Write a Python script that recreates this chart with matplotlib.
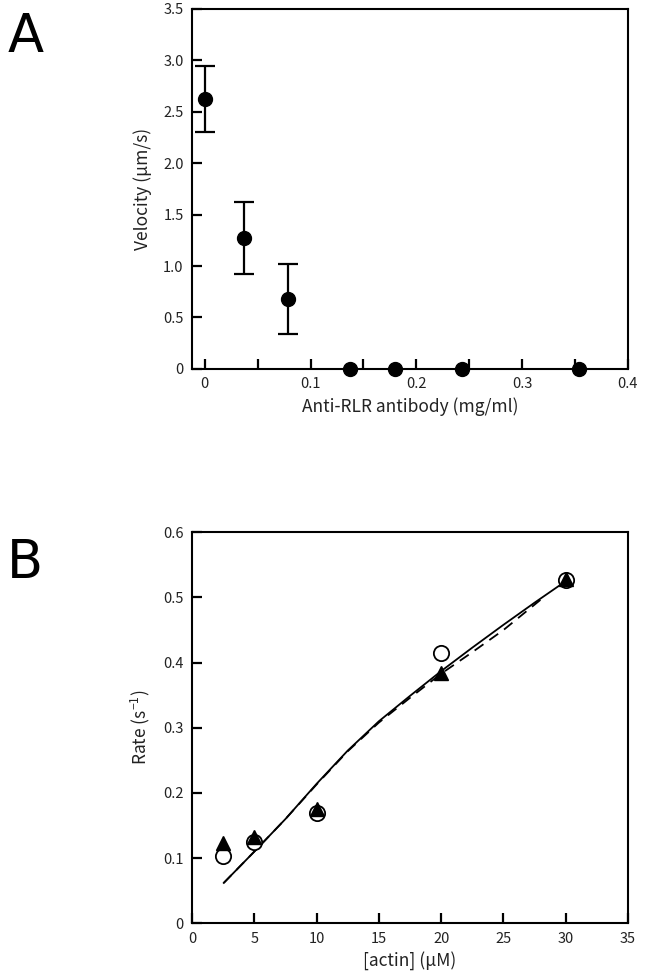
import matplotlib
matplotlib.use("Agg")
import matplotlib.pyplot as plt
import numpy as np

plt.rcParams['font.family'] = ['Noto Sans CJK JP', 'DejaVu Sans']
plt.rcParams['mathtext.fontset'] = 'custom'
plt.rcParams['mathtext.rm'] = 'Noto Sans CJK JP'

# panel A: velocity vs antibody
antibody = [0.0, 0.0375, 0.079, 0.137, 0.18, 0.243, 0.354]
velocity = [2.62, 1.27, 0.68, 0.0, 0.0, 0.0, 0.0]
vel_err = [0.32, 0.35, 0.34, 0.0, 0.0, 0.0, 0.0]

# panel B: rate vs actin
actin = [2.5, 5, 10, 20, 30]
rate_open = [0.104, 0.125, 0.170, 0.415, 0.527]
rate_tri = [0.123, 0.133, 0.176, 0.384, 0.528]

fit_x = [2.55, 5, 7.5, 10, 12.5, 15, 17.5, 20, 22.5, 25, 27.5, 30]
fit_solid = [0.062, 0.110, 0.160, 0.214, 0.265, 0.310, 0.349, 0.387, 0.423, 0.458, 0.492, 0.525]
fit_dash_x = [2.55, 5, 7.5, 10, 12.5, 15, 17.5, 20, 22.5, 25, 28.4]
fit_dash = [0.062, 0.110, 0.160, 0.213, 0.264, 0.308, 0.346, 0.383, 0.416, 0.450, 0.503]

txt = '#222222'

fig = plt.figure(figsize=(6.48, 9.76), dpi=100)

#%% panel A
axA = fig.add_axes([0.2963, 0.622, 0.6728, 0.3689])
axA.errorbar(antibody[:3], velocity[:3], yerr=vel_err[:3], fmt='none', ecolor='black',
             elinewidth=1.6, capsize=7, capthick=1.6)
axA.plot(antibody, velocity, 'o', color='black', ms=10, clip_on=False, zorder=5)
axA.set_xlim(-0.012, 0.397)
axA.set_ylim(0, 3.5)
axA.set_xticks(np.arange(0, 0.41, 0.05))
axA.set_xticklabels(['0', '', '0.1', '', '0.2', '', '0.3', '', '0.4'])
axA.set_yticks(np.arange(0, 3.51, 0.5))
axA.set_yticklabels(['0', '0.5', '1.0', '1.5', '2.0', '2.5', '3.0', '3.5'])
axA.set_xlabel('Anti-RLR antibody (mg/ml)', fontsize=12.5, color=txt, labelpad=4)
axA.set_ylabel('Velocity (μm/s)', fontsize=12.5, color=txt, labelpad=8)

#%% panel B
axB = fig.add_axes([0.2963, 0.054, 0.6728, 0.4006])
axB.plot(fit_x, fit_solid, '-', color='black', lw=1.3)
axB.plot(fit_dash_x, fit_dash, '--', color='black', lw=1.3, dashes=(6, 4))
axB.plot(actin, rate_open, 'o', mfc='white', mec='black', mew=1.3, ms=11, zorder=4)
axB.plot(actin, rate_tri, '^', color='black', ms=10, zorder=5)
axB.set_xlim(0, 35)
axB.set_ylim(0, 0.6)
axB.set_xticks(np.arange(0, 36, 5))
axB.set_yticks(np.arange(0, 0.61, 0.1))
axB.set_yticklabels(['0', '0.1', '0.2', '0.3', '0.4', '0.5', '0.6'])
axB.set_xlabel('[actin] (μM)', fontsize=12.5, color=txt, labelpad=4)
axB.set_ylabel('Rate (s$^{-1}$)', fontsize=12.5, color=txt, labelpad=8)

for ax in (axA, axB):
    for s in ax.spines.values():
        s.set_linewidth(1.5)
    ax.tick_params(direction='in', length=7, width=1.6, labelsize=10.5, labelcolor=txt,
                   top=False, right=False, pad=6)

fig.text(0.012, 0.947, 'A', fontsize=38, family='DejaVu Sans')
fig.text(0.010, 0.408, 'B', fontsize=38, family='DejaVu Sans')

plt.savefig('out.png', dpi=100)
